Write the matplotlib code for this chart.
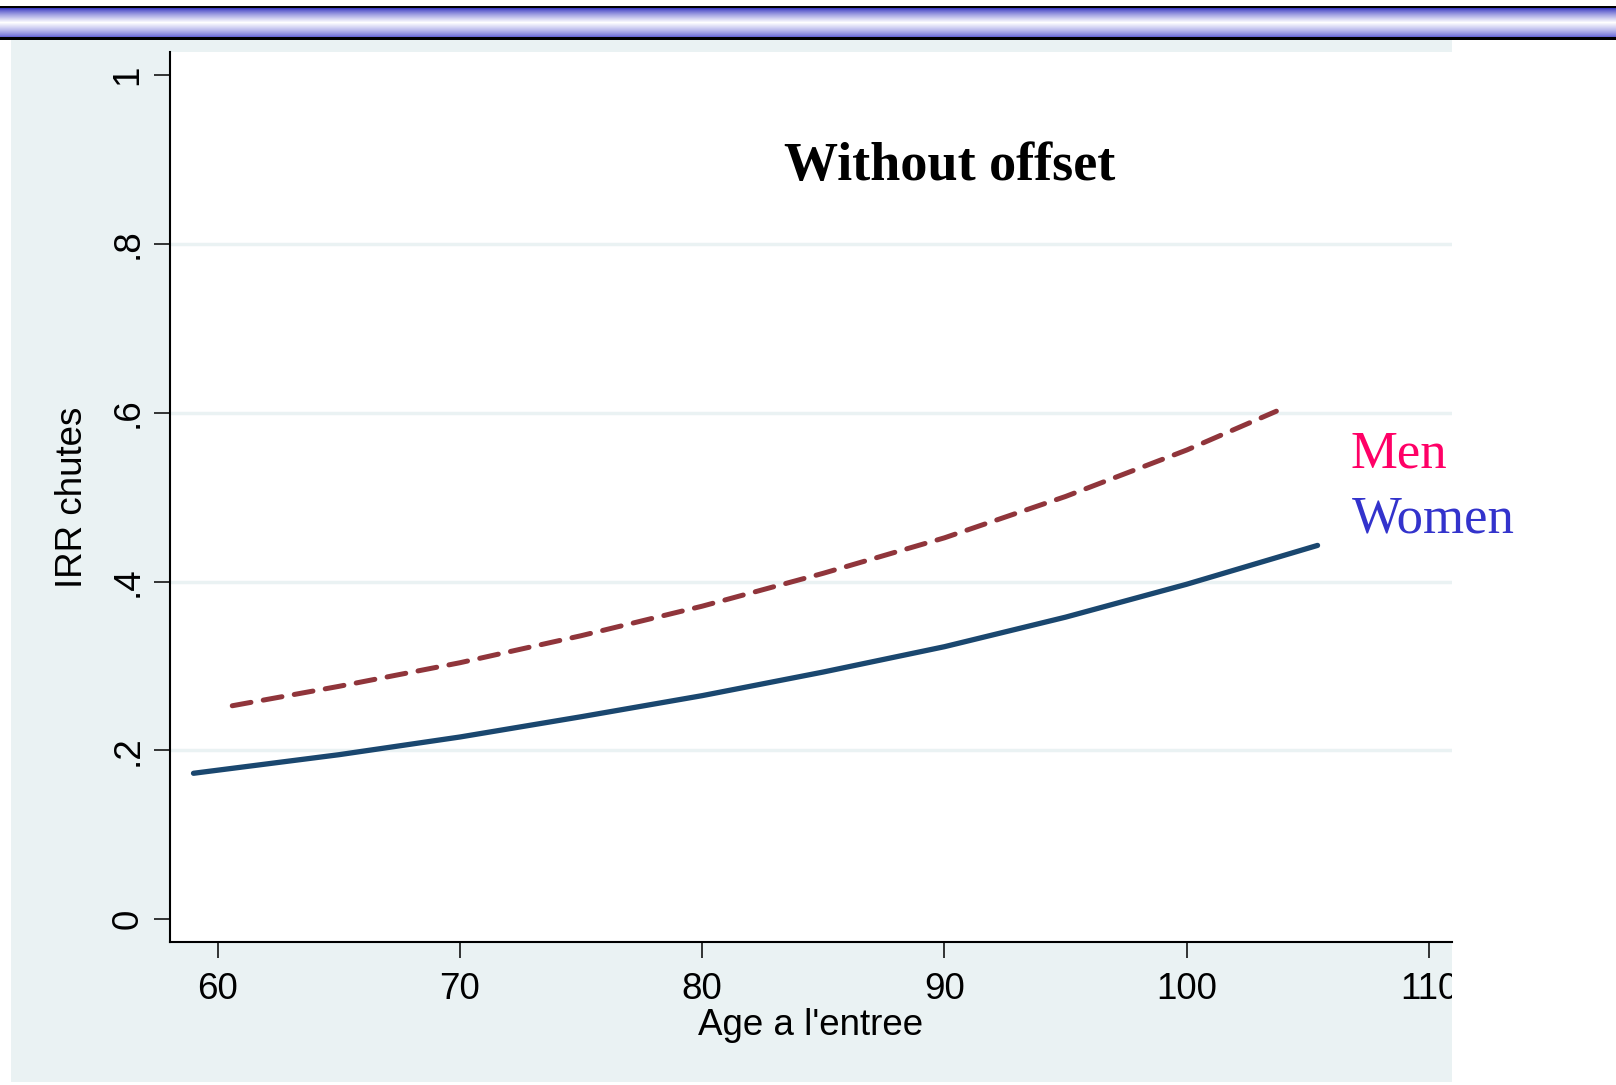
import numpy as np
import matplotlib
matplotlib.use("Agg")
import matplotlib.pyplot as plt
from matplotlib.patches import Rectangle

# ---- data ----
men_age = [60.6, 65, 70, 75, 80, 85, 90, 95, 100, 103.7]
men_irr = [0.253, 0.276, 0.304, 0.336, 0.371, 0.410, 0.452, 0.501, 0.556, 0.602]
women_age = [59.0, 65, 70, 75, 80, 85, 90, 95, 100, 105.4]
women_irr = [0.173, 0.195, 0.216, 0.240, 0.265, 0.293, 0.323, 0.358, 0.397, 0.443]

x_ticks = [60, 70, 80, 90, 100, 110]
y_ticks = [0, 0.2, 0.4, 0.6, 0.8, 1.0]
y_tick_labels = ["0", ".2", ".4", ".6", ".8", "1"]
grid_vals = [0.2, 0.4, 0.6, 0.8]

title = "Without offset"
x_label = "Age a l'entree"
y_label = "IRR chutes"
series_labels = ["Men", "Women"]

W, H = 1616, 1085
fig = plt.figure(figsize=(W / 100, H / 100), dpi=100)
fig.patch.set_facecolor("white")

BG = "#EAF2F3"
# background panel as its own axes (drawn first)
panel_ax = fig.add_axes([11 / W, 1 - 1082 / H, (1452 - 11) / W, (1082 - 40) / H], zorder=-5)
panel_ax.set_facecolor(BG)
panel_ax.set_xticks([])
panel_ax.set_yticks([])
for s in panel_ax.spines.values():
    s.set_visible(False)

# top gradient bar
bar = fig.add_axes([0, 1 - 40 / H, 1, 34 / H])
bar.axis("off")
n = 34
img = np.ones((n, 2, 3))
top_c = np.array([60, 60, 195]) / 255
bot_c = np.array([105, 105, 215]) / 255
for i in range(n):
    if i < 2 or i >= 31:
        img[i, :, :] = 0
    else:
        t = (i - 2) / 28.0
        if t < 0.5:
            w = (t / 0.5) ** 0.8
            img[i, :, :] = top_c * (1 - w) + np.ones(3) * w
        else:
            w = ((1 - t) / 0.5) ** 0.8
            img[i, :, :] = bot_c * (1 - w) + np.ones(3) * w
bar.imshow(img, aspect="auto", interpolation="bilinear", extent=[0, 1, 0, 1])
bar.set_xlim(0, 1)
bar.set_ylim(0, 1)

# main axes
ax = fig.add_axes([170 / W, 1 - 942 / H, (1452 - 170) / W, (942 - 52) / H], zorder=1)
ax.set_facecolor("white")
ax.set_xlim(58.03, 110.95)
ax.set_ylim(-0.0269, 1.0276)

for v in grid_vals:
    ax.axhline(v, color=BG, lw=2.5, zorder=1)

ax.plot(men_age, men_irr, color="#90353B", lw=3.6, linestyle=(0, (3.8, 2.5)),
        dash_capstyle="round", solid_joinstyle="round", dash_joinstyle="round", zorder=3)
ax.plot(women_age, women_irr, color="#1A476F", lw=3.8, solid_capstyle="round",
        solid_joinstyle="round", zorder=3)

for s in ["top", "right"]:
    ax.spines[s].set_visible(False)
for s in ["left", "bottom"]:
    ax.spines[s].set_linewidth(1.5)
    ax.spines[s].set_color("black")

ax.set_xticks(x_ticks)
ax.set_xticklabels([str(v) for v in x_ticks])
ax.set_yticks(y_ticks)
ax.set_yticklabels(y_tick_labels, rotation=90, va="center")
ax.tick_params(axis="both", direction="out", length=11.5, width=1.1, labelsize=26.5,
               colors="black")
ax.tick_params(axis="x", pad=10)
ax.tick_params(axis="y", pad=6)
for lab in ax.get_xticklabels() + ax.get_yticklabels():
    lab.set_fontfamily("Liberation Sans")

# clip the last x tick label at the panel's right edge
clip_rect = Rectangle((0, 0), 1452 / W, 1, transform=fig.transFigure, visible=False)
fig.patches.append(clip_rect)
last = ax.get_xticklabels()[-1]
last.set_clip_on(True)
last.set_clip_path(clip_rect)

ax.set_xlabel(x_label, fontsize=26.5, family="Liberation Sans", labelpad=1)
ax.set_ylabel(y_label, fontsize=26.5, family="Liberation Sans", labelpad=15)

fig.text(950 / W, 1 - 180 / H, title, ha="center", va="baseline",
         fontsize=39, fontweight="bold", family="Liberation Serif")
fig.text(1350 / W, 1 - 468 / H, series_labels[0], ha="left", va="baseline",
         fontsize=38, color="#FF0066", family="Liberation Serif")
fig.text(1352 / W, 1 - 533 / H, series_labels[1], ha="left", va="baseline",
         fontsize=38, color="#3333CC", family="Liberation Serif")

fig.savefig("out.png", dpi=100)
